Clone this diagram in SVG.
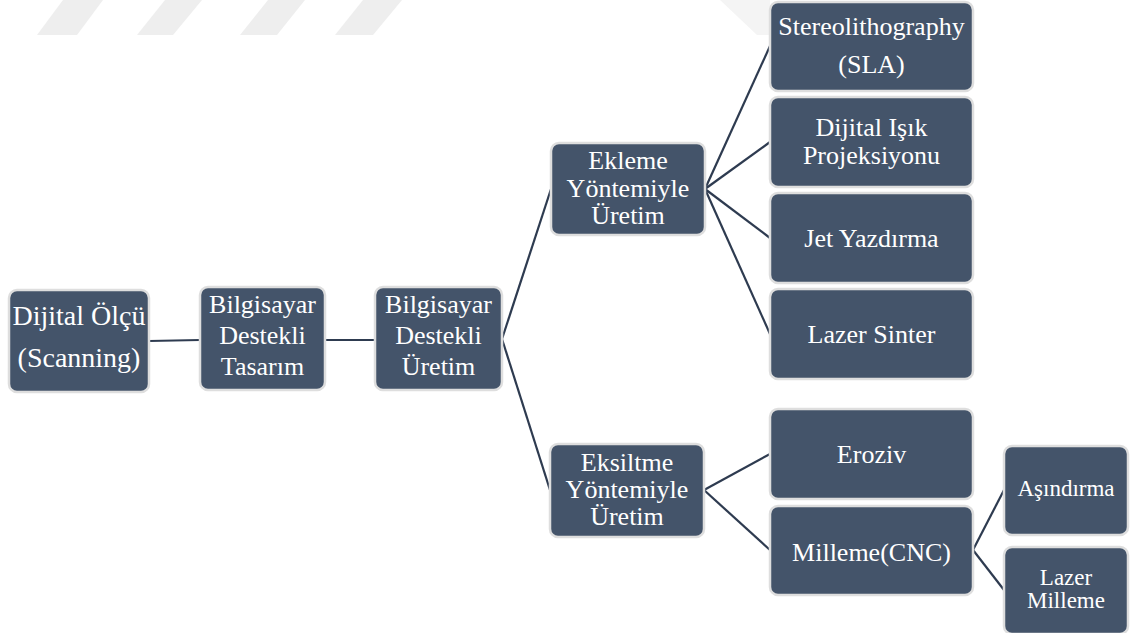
<svg xmlns="http://www.w3.org/2000/svg" width="1136" height="633" viewBox="0 0 1136 633">
<style>
.box{fill:#44546a;stroke:#dedede;stroke-width:2.5}
.t{fill:#ffffff;text-anchor:middle;font-size:26px}
.s{font-size:23px}
.b{font-size:28px}
.c{stroke:#2e3b50;stroke-width:2.2;fill:none}
.wm{fill:#eeeeee}
</style>
<rect width="1136" height="633" fill="#ffffff"/>
<g id="watermark">
<polygon class="wm" points="63,0 103,0 77,35 37,35"/>
<polygon class="wm" points="165,0 202,0 173,35 137,35"/>
<polygon class="wm" points="268,0 305,0 277,35 240,35"/>
<polygon class="wm" points="363,0 402,0 373,35 335,35"/>
<polygon fill="#f4f4f4" points="720,0 770,0 770,35 757,35"/>
</g>
<g id="connectors">
<line class="c" x1="149" y1="341" x2="200" y2="340"/>
<line class="c" x1="325" y1="340" x2="375" y2="340"/>
<line class="c" x1="502" y1="339" x2="551" y2="189"/>
<line class="c" x1="502" y1="339" x2="550" y2="490"/>
<line class="c" x1="705" y1="189" x2="770" y2="46"/>
<line class="c" x1="705" y1="189" x2="770" y2="142"/>
<line class="c" x1="705" y1="189" x2="770" y2="238"/>
<line class="c" x1="705" y1="189" x2="770" y2="334"/>
<line class="c" x1="704" y1="490" x2="770" y2="454"/>
<line class="c" x1="704" y1="490" x2="770" y2="550"/>
<line class="c" x1="973" y1="550" x2="1004" y2="490"/>
<line class="c" x1="973" y1="550" x2="1004" y2="590"/>
</g>
<g font-family="'Liberation Serif', Tinos, 'Times New Roman', Times, 'Noto Serif', 'DejaVu Serif', FreeSerif, 'Nimbus Roman', Georgia, serif">
<g id="n-olcu"><rect class="box" x="9" y="290" width="140" height="102" rx="8"/>
<text class="t b" x="79" y="325">Dijital Ölçü</text>
<text class="t b" x="79" y="367">(Scanning)</text></g>
<g id="n-cad"><rect class="box" x="200" y="287" width="125" height="103" rx="8"/>
<text class="t" x="262.5" y="313">Bilgisayar</text>
<text class="t" x="262.5" y="344">Destekli</text>
<text class="t" x="262.5" y="375">Tasarım</text></g>
<g id="n-cam"><rect class="box" x="375" y="287" width="127" height="103" rx="8"/>
<text class="t" x="438.5" y="313">Bilgisayar</text>
<text class="t" x="438.5" y="344">Destekli</text>
<text class="t" x="438.5" y="375">Üretim</text></g>
<g id="n-ekleme"><rect class="box" x="551" y="143" width="154" height="92" rx="8"/>
<text class="t" x="628" y="169">Ekleme</text>
<text class="t" x="628" y="197">Yöntemiyle</text>
<text class="t" x="628" y="224">Üretim</text></g>
<g id="n-eksiltme"><rect class="box" x="550" y="444" width="154" height="93" rx="8"/>
<text class="t" x="627" y="471">Eksiltme</text>
<text class="t" x="627" y="498">Yöntemiyle</text>
<text class="t" x="627" y="525">Üretim</text></g>
<g id="n-sla"><rect class="box" x="770" y="2" width="203" height="89" rx="8"/>
<text class="t" x="871.5" y="35">Stereolithography</text>
<text class="t" x="871.5" y="73">(SLA)</text></g>
<g id="n-dlp"><rect class="box" x="770" y="97" width="203" height="90" rx="8"/>
<text class="t" x="871.5" y="136">Dijital Işık</text>
<text class="t" x="871.5" y="164">Projeksiyonu</text></g>
<g id="n-jet"><rect class="box" x="770" y="193" width="203" height="90" rx="8"/>
<text class="t" x="871.5" y="247">Jet Yazdırma</text></g>
<g id="n-sinter"><rect class="box" x="770" y="289" width="203" height="90" rx="8"/>
<text class="t" x="871.5" y="343">Lazer Sinter</text></g>
<g id="n-eroziv"><rect class="box" x="770" y="409" width="203" height="90" rx="8"/>
<text class="t" x="871.5" y="463">Eroziv</text></g>
<g id="n-milleme"><rect class="box" x="770" y="506" width="203" height="89" rx="8"/>
<text class="t" x="871.5" y="561">Milleme(CNC)</text></g>
<g id="n-asindirma"><rect class="box" x="1004" y="446" width="124" height="89" rx="8"/>
<text class="t s" x="1066" y="496">Aşındırma</text></g>
<g id="n-lazermilleme"><rect class="box" x="1004" y="547" width="124" height="87" rx="8"/>
<text class="t s" x="1066" y="585">Lazer</text>
<text class="t s" x="1066" y="608">Milleme</text></g>
</g>
</svg>
